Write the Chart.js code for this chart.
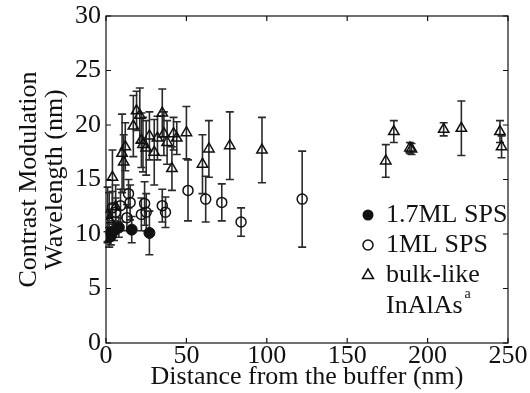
<!DOCTYPE html>
<html>
<head>
<meta charset="utf-8">
<script src="https://cdn.jsdelivr.net/npm/chart.js@4.4.0/dist/chart.umd.min.js"></script>
<style>
  html, body { margin: 0; padding: 0; background: #fff; }
  #wrap { width: 530px; height: 393px; }
</style>
</head>
<body>
<div id="wrap"><canvas id="myChart" width="530" height="393"></canvas></div>
<script>
"use strict";

// Values (distance in nm, wavelength in nm, error half-width)
const spsThickX = [1, 2, 3, 5, 8, 16, 27];
const spsThickY = [9.7, 10.0, 9.8, 10.3, 10.6, 10.4, 10.1];
const spsThickErr = [0.5, 0.6, 0.8, 0.9, 0.9, 1.2, 2.0];

const spsThinX = [2, 4, 6, 9, 13, 14, 15, 22, 24, 25, 35, 37, 51, 62, 72, 84, 122];
const spsThinY = [11.0, 12.4, 12.0, 12.6, 11.5, 13.7, 12.9, 11.8, 12.8, 12.0, 12.6, 12.0, 14.0, 13.2, 12.9, 11.1, 13.2];
const spsThinErr = [1.0, 1.5, 1.3, 1.5, 1.2, 1.3, 1.6, 1.5, 2.0, 1.7, 1.5, 1.4, 2.8, 2.1, 1.7, 1.3, 4.4];

const bulkX = [1, 2, 4, 6, 10, 11, 12, 17, 19, 21, 22, 23, 25, 27, 30, 32, 35, 36, 38, 41, 42, 44, 50, 60, 64, 77, 97, 174, 179, 189, 190, 210, 221, 245, 246];
const bulkY = [11.8, 11.3, 15.2, 12.5, 17.4, 16.6, 18.0, 19.9, 21.3, 20.9, 18.6, 18.2, 17.9, 19.0, 17.5, 18.8, 21.1, 19.2, 18.4, 16.0, 19.2, 18.8, 19.3, 16.4, 17.8, 18.1, 17.7, 16.7, 19.4, 17.9, 17.8, 19.6, 19.7, 19.4, 18.0];
const bulkErr = [2.5, 2.5, 2.5, 2.0, 3.6, 2.5, 2.2, 2.8, 1.8, 2.5, 2.5, 2.5, 2.5, 2.2, 3.0, 2.0, 2.2, 2.0, 2.0, 2.0, 1.5, 1.5, 2.4, 2.7, 2.6, 3.1, 3.0, 1.5, 1.0, 0.5, 0.5, 0.6, 2.5, 1.0, 1.0];

const xTicks = [0, 50, 100, 150, 200, 250];
const yTicks = [0, 5, 10, 15, 20, 25, 30];

const serif = "'Liberation Serif', 'Times New Roman', serif";

function toPoints(xs, ys, errs) {
	return xs.map(function (x, i) {
		return { x: x, y: ys[i], e: errs[i] };
	});
}

// Vertical error bars with caps, drawn before the markers
const errorBars = {
	id: "errorBars",
	beforeDatasetsDraw(chart) {
		const ctx = chart.ctx;
		const xs = chart.scales.x;
		const ys = chart.scales.y;
		ctx.save();
		ctx.strokeStyle = "#2a2a2a";
		ctx.lineWidth = 1.6;
		chart.data.datasets.forEach(function (ds) {
			ds.data.forEach(function (p) {
				const px = xs.getPixelForValue(p.x);
				const top = ys.getPixelForValue(p.y + p.e);
				const bot = ys.getPixelForValue(p.y - p.e);
				ctx.beginPath();
				ctx.moveTo(px, top);
				ctx.lineTo(px, bot);
				ctx.moveTo(px - 4, top);
				ctx.lineTo(px + 4, top);
				ctx.moveTo(px - 4, bot);
				ctx.lineTo(px + 4, bot);
				ctx.stroke();
			});
		});
		ctx.restore();
	},
};

// Box around the plot with inward ticks on all four sides
const frame = {
	id: "frame",
	afterDraw(chart) {
		const ctx = chart.ctx;
		const a = chart.chartArea;
		const xs = chart.scales.x;
		const ys = chart.scales.y;
		ctx.save();
		ctx.strokeStyle = "#111";
		ctx.lineWidth = 1.2;
		ctx.strokeRect(a.left, a.top, a.right - a.left, a.bottom - a.top);
		ctx.beginPath();
		xTicks.forEach(function (t) {
			const px = xs.getPixelForValue(t);
			ctx.moveTo(px, a.bottom);
			ctx.lineTo(px, a.bottom - 5);
			ctx.moveTo(px, a.top);
			ctx.lineTo(px, a.top + 5);
		});
		yTicks.forEach(function (t) {
			const py = ys.getPixelForValue(t);
			ctx.moveTo(a.left, py);
			ctx.lineTo(a.left + 5, py);
			ctx.moveTo(a.right, py);
			ctx.lineTo(a.right - 5, py);
		});
		ctx.stroke();
		ctx.restore();
	},
};

// Legend inside the plot, with the superscript on InAlAs
const innerLegend = {
	id: "innerLegend",
	afterDatasetsDraw(chart) {
		const ctx = chart.ctx;
		const mx = 368;
		const tx = 386;
		const rows = [215, 245, 275];
		ctx.save();
		ctx.strokeStyle = "#111";
		ctx.fillStyle = "#111";
		ctx.lineWidth = 1.5;

		ctx.beginPath();
		ctx.arc(mx, rows[0], 5.5, 0, Math.PI * 2);
		ctx.fill();

		ctx.beginPath();
		ctx.arc(mx, rows[1], 5, 0, Math.PI * 2);
		ctx.stroke();

		ctx.beginPath();
		ctx.moveTo(mx, rows[2] - 6);
		ctx.lineTo(mx + 5.5, rows[2] + 3.5);
		ctx.lineTo(mx - 5.5, rows[2] + 3.5);
		ctx.closePath();
		ctx.stroke();

		ctx.font = "26px " + serif;
		ctx.textBaseline = "middle";
		ctx.textAlign = "left";
		ctx.fillText(chart.data.datasets[0].label, tx, rows[0]);
		ctx.fillText(chart.data.datasets[1].label, tx, rows[1]);
		ctx.fillText(chart.data.datasets[2].label, tx, rows[2]);
		ctx.fillText("InAlAs", tx, 306);
		const w = ctx.measureText("InAlAs").width;
		ctx.font = "14px " + serif;
		ctx.fillText("a", tx + w + 2, 294);
		ctx.restore();
	},
};

new Chart(document.getElementById("myChart"), {
	type: "scatter",
	data: {
		datasets: [
			{
				label: "1.7ML SPS",
				data: toPoints(spsThickX, spsThickY, spsThickErr),
				pointStyle: "circle",
				pointRadius: 5.5,
				backgroundColor: "#111",
				borderColor: "#111",
				borderWidth: 1,
			},
			{
				label: "1ML SPS",
				data: toPoints(spsThinX, spsThinY, spsThinErr),
				pointStyle: "circle",
				pointRadius: 5,
				backgroundColor: "rgba(0,0,0,0)",
				borderColor: "#111",
				borderWidth: 1.5,
			},
			{
				label: "bulk-like",
				data: toPoints(bulkX, bulkY, bulkErr),
				pointStyle: "triangle",
				pointRadius: 6,
				backgroundColor: "rgba(0,0,0,0)",
				borderColor: "#111",
				borderWidth: 1.5,
			},
		],
	},
	options: {
		responsive: false,
		animation: false,
		layout: {
			padding: { top: 16, right: 22, left: 0, bottom: 0 },
		},
		scales: {
			x: {
				type: "linear",
				min: 0,
				max: 250,
				afterBuildTicks(scale) {
					scale.ticks = xTicks.map(function (v) { return { value: v }; });
				},
				afterFit(scale) {
					scale.height = 50;
					scale.paddingLeft = 0;
					scale.paddingRight = 0;
				},
				grid: { display: false, drawTicks: false },
				border: { display: false },
				ticks: {
					color: "#111",
					padding: -2,
					maxRotation: 0,
					font: { family: serif, size: 26 },
				},
				title: {
					display: true,
					text: "Distance from the buffer (nm)",
					color: "#111",
					padding: { top: -4, bottom: 0 },
					font: { family: serif, size: 26 },
				},
			},
			y: {
				type: "linear",
				min: 0,
				max: 30,
				afterBuildTicks(scale) {
					scale.ticks = yTicks.map(function (v) { return { value: v }; });
				},
				afterFit(scale) {
					scale.width = 106;
					scale.paddingTop = 0;
					scale.paddingBottom = 0;
				},
				grid: { display: false, drawTicks: false },
				border: { display: false },
				ticks: {
					color: "#111",
					padding: 5,
					font: { family: serif, size: 26 },
				},
				title: {
					display: true,
					text: ["Contrast Modulation", "Wavelength (nm)"],
					color: "#111",
					padding: { top: 16, bottom: 0 },
					font: { family: serif, size: 26, lineHeight: 1.0 },
				},
			},
		},
		plugins: {
			legend: { display: false },
			tooltip: { enabled: false },
		},
	},
	plugins: [errorBars, frame, innerLegend],
});
</script>
</body>
</html>
